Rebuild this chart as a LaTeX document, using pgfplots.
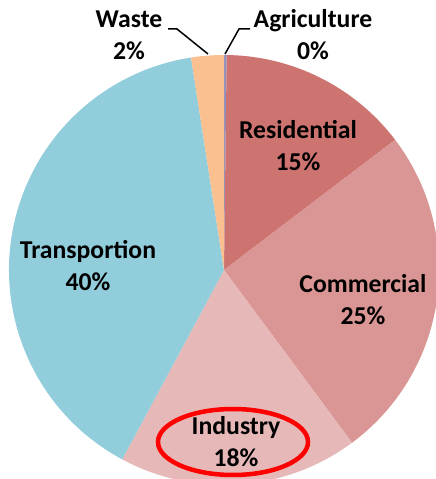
\documentclass[border=0pt]{standalone}
\usepackage{fontspec}
\setmainfont{Carlito}
\usepackage{pgfplots}
\usepackage{pgfplotstable}
\pgfplotsset{compat=1.18}

\definecolor{c0}{HTML}{8E8EC0} % Agriculture
\definecolor{c1}{HTML}{CD7370} % Residential
\definecolor{c2}{HTML}{DA9694} % Commercial
\definecolor{c3}{HTML}{E6B9B8} % Industry
\definecolor{c4}{HTML}{92CDDC} % Transportion
\definecolor{c5}{HTML}{FAC090} % Waste

\pgfplotstableread{
sector value
Agriculture 0.2
Residential 14.45
Commercial 25.2
Industry 18.0
Transportion 39.7
Waste 2.45
}\piedata

% cumulative share -> wedge angles, clockwise from 12 o'clock
\pgfplotstablecreatecol[create col/expr accum={\pgfmathaccuma + \thisrow{value}}{0}]{cum}\piedata
\pgfplotstablecreatecol[create col/expr={90 - 3.6*(\thisrow{cum} - \thisrow{value})}]{a}\piedata
\pgfplotstablecreatecol[create col/expr={90 - 3.6*\thisrow{cum}}]{b}\piedata

\newcommand\lab{\fontsize{25.8}{32}\selectfont\bfseries}

\begin{document}
\begin{tikzpicture}
\useasboundingbox (0,0) rectangle (436bp,479bp);
\begin{axis}[
    at={(0,0)}, anchor=south west,
    width=436bp, height=479bp, scale only axis,
    xmin=0, xmax=436, ymin=0, ymax=479,
    hide axis,
]
\pgfplotsinvokeforeach{0,...,5}{
  \pgfplotstablegetelem{#1}{a}\of\piedata
  \pgfmathfloatparsenumber{\pgfplotsretval}\pgfmathfloattofixed{\pgfmathresult}\edef\sa{\pgfmathresult}
  \pgfplotstablegetelem{#1}{b}\of\piedata
  \pgfmathfloatparsenumber{\pgfplotsretval}\pgfmathfloattofixed{\pgfmathresult}\edef\sb{\pgfmathresult}
  \edef\mkwedge{\noexpand\fill[c#1] (axis cs:224,209) -- ++(\sa:215bp) arc[start angle=\sa, end angle=\sb, radius=215bp] -- cycle;}
  \mkwedge
}

% leader lines for the two small slices
\draw[line width=1.5bp] (axis cs:168,450) -- (axis cs:177,450) -- (axis cs:208,425);
\draw[line width=1.5bp] (axis cs:250,450) -- (axis cs:239,450) -- (axis cs:225,425);

\node[align=center, font=\lab] at (axis cs:129,444) {Waste\\2\%};
\node[align=center, font=\lab] at (axis cs:313,444) {Agriculture\\0\%};
\node[align=center, font=\lab] at (axis cs:298,333) {Residential\\15\%};
\node[align=center, font=\lab] at (axis cs:363,179) {Commercial\\25\%};
\node[align=center, font=\lab] at (axis cs:236,37) {Industry\\18\%};
\node[align=center, font=\lab] at (axis cs:88,213) {Transportion\\40\%};

% highlight
\draw[red, line width=4.5bp] (axis cs:233,37) ellipse [x radius=75bp, y radius=33bp];
\end{axis}
\end{tikzpicture}
\end{document}
